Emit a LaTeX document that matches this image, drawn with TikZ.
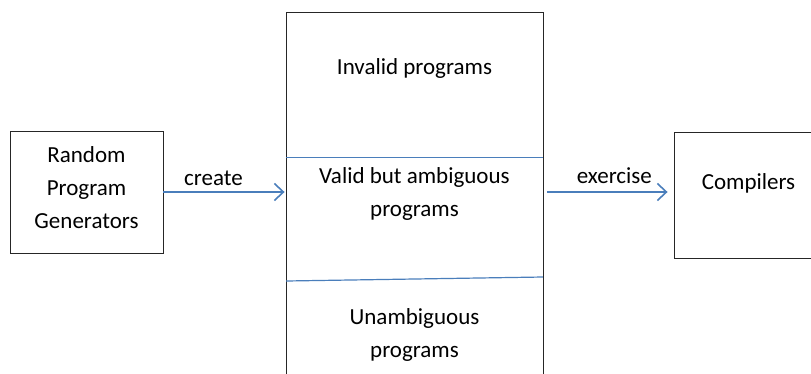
\documentclass[tikz,border=0pt]{standalone}
\usepackage{fontspec}
\setmainfont{Carlito}
\usepackage{tikz}
\usetikzlibrary{arrows.meta}
\definecolor{pilbla}{HTML}{4A7EBB}

\begin{document}
\begin{tikzpicture}[x=1pt,y=-1pt,
    box/.style={draw=black!85,line width=0.9pt,inner sep=0pt},
    txt/.style={font=\fontsize{23}{33}\selectfont,align=center},
    flow/.style={draw=pilbla,line width=1.8pt,-{Straight Barb[length=9pt,width=17pt,line width=1.6pt]}},
    divider/.style={draw=pilbla,line width=1.2pt}]
  \useasboundingbox (0,0) rectangle (811,373);
  \clip (0,0) rectangle (811,373);
  % Lådor
  \node[box,minimum width=153,minimum height=122] (gen) at (86.5,192) {};
  \node[txt] (gentext) at (86.5,188) {Random\\Program\\Generators};
  \node[box,anchor=north,minimum width=257,minimum height=420] (prog) at (414.5,12) {};
  \node[box,minimum width=149,minimum height=126] (comp) at (748.5,195) {};
  \node[txt] (comptext) at (748.5,183) {Compilers};
  % Delar
  \draw[divider] ([xshift=0.5pt]prog.west |- 0,157.5) -- ([xshift=-0.5pt]prog.east |- 0,157.5);
  \draw[divider] ([xshift=0.5pt]prog.west |- 0,281) -- ([xshift=-0.5pt]prog.east |- 0,277);
  \node[txt] (invalid) at (prog.north |- 0,68) {Invalid programs};
  \node[txt] (ambig) at (prog.north |- 0,193.5) {Valid but ambiguous\\programs};
  \node[txt] (unambig) at (prog.north |- 0,335) {Unambiguous\\programs};
  % Pilar
  \draw[flow,shorten >=1pt] (gen.east) -- (gen.east -| prog.west)
    node[txt,pos=0.41,above,yshift=2] {create};
  \draw[flow,shorten <=4pt,shorten >=6pt] (prog.east |- gen.east) -- (comp.west |- gen.east)
    node[txt,pos=0.545,above,yshift=4] {exercise};
\end{tikzpicture}
\end{document}
